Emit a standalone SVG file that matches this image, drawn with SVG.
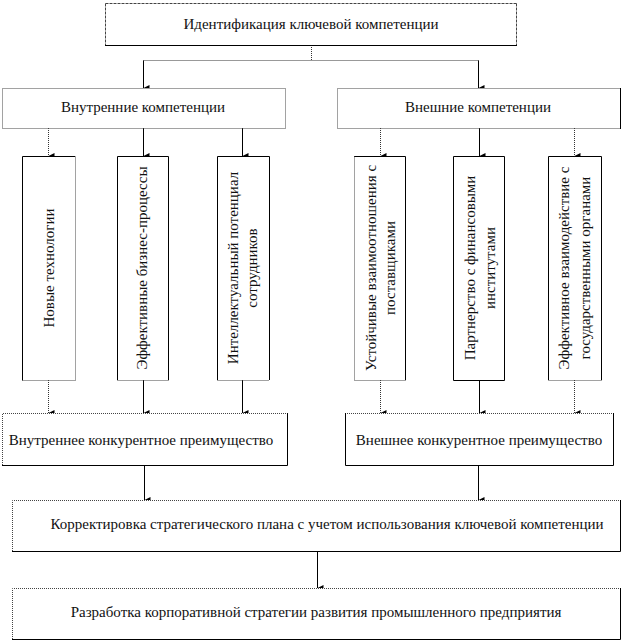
<svg xmlns="http://www.w3.org/2000/svg" width="623" height="642" viewBox="0 0 623 642">
<defs>
<marker id="ah" markerWidth="8" markerHeight="8" refX="4" refY="7" orient="auto" markerUnits="userSpaceOnUse" viewBox="0 0 8 8">
<path d="M1,1 L7,1 L4,7 Z" fill="#000"/>
</marker>
<style>
.bg{fill:#fff;stroke:none}
.s{stroke:#000;stroke-width:1;fill:none}
.d{stroke:#444;stroke-width:1;stroke-dasharray:1 1;fill:none}
.ds{stroke:#444;stroke-width:1;stroke-dasharray:3 1;fill:none}
.t{font-family:'Liberation Serif','Times New Roman',serif;font-size:15px;fill:#111;text-anchor:middle}
.c{stroke:#000;stroke-width:1;fill:none}
.cd{stroke:#333;stroke-width:1;stroke-dasharray:1 1;fill:none}
</style>
</defs>
<rect width="623" height="642" fill="#fff"/>

<g id="connectors">
<path class="cd" d="M311.5,45 V60.5 M143.5,60.5 H478.5"/>
<path class="c" d="M143.5,60.5 V88" marker-end="url(#ah)"/>
<path class="c" d="M478.5,60.5 V88" marker-end="url(#ah)"/>
<path class="cd" d="M48.5,128 V156" marker-end="url(#ah)"/>
<path class="c" d="M143.5,128 V156" marker-end="url(#ah)"/>
<path class="c" d="M242.5,128 V156" marker-end="url(#ah)"/>
<path class="cd" d="M380.5,128 V156" marker-end="url(#ah)"/>
<path class="c" d="M479.5,128 V156" marker-end="url(#ah)"/>
<path class="cd" d="M574.5,128 V156" marker-end="url(#ah)"/>
<path class="cd" d="M48.5,380 V413" marker-end="url(#ah)"/>
<path class="c" d="M143.5,380 V413" marker-end="url(#ah)"/>
<path class="c" d="M242.5,380 V413" marker-end="url(#ah)"/>
<path class="cd" d="M380.5,380 V413" marker-end="url(#ah)"/>
<path class="c" d="M479.5,380 V413" marker-end="url(#ah)"/>
<path class="cd" d="M574.5,380 V413" marker-end="url(#ah)"/>
<path class="c" d="M144.5,465 V500" marker-end="url(#ah)"/>
<path class="c" d="M478.5,465 V500" marker-end="url(#ah)"/>
<path class="c" d="M317.5,551 V588" marker-end="url(#ah)"/>
</g>

<g id="n-ident">
<rect class="bg" x="105" y="3" width="412" height="42"/>
<path class="ds" d="M105.5,3.5 H516.5 M105.5,3.5 V45 M516.5,3.5 V45"/>
<path class="s" d="M105,45.5 H517"/>
<text class="t" x="311" y="29" font-family="Liberation Serif">Идентификация ключевой компетенции</text>
</g>

<g id="n-vnutr">
<rect class="bg" x="2" y="88" width="283" height="40"/>
<path class="d" d="M2.5,88.5 H285.5 V128.5 H2.5 Z"/>
<text class="t" x="143" y="112" font-family="Liberation Serif">Внутренние компетенции</text>
</g>

<g id="n-vnesh">
<rect class="bg" x="337" y="88" width="283" height="40"/>
<path class="d" d="M620.5,128.5 H337.5 V88.5 H620.5"/>
<path class="s" d="M620.5,88 V129"/>
<text class="t" x="478" y="112" font-family="Liberation Serif">Внешние компетенции</text>
</g>

<g id="n-b1">
<rect class="bg" x="23" y="156" width="52" height="224"/>
<path class="s" d="M75,156.5 H22.5 V380.5"/>
<path class="d" d="M22.5,380.5 H75.5 V156.5"/>
<text class="t" transform="translate(54,268) rotate(-90)" font-family="Liberation Serif">Новые технологии</text>
</g>

<g id="n-b2">
<rect class="bg" x="117" y="156" width="51" height="224"/>
<path class="s" d="M117.5,380 V156.5 H168.5 V380"/>
<path class="d" d="M117.5,380.5 H168.5"/>
<text class="t" transform="translate(147,268) rotate(-90)" font-family="Liberation Serif">Эффективные бизнес-процессы</text>
</g>

<g id="n-b3">
<rect class="bg" x="217" y="156" width="52" height="224"/>
<path class="s" d="M217.5,380 V156.5 H269.5 V380"/>
<path class="d" d="M217.5,380.5 H269.5"/>
<text class="t" transform="translate(238,268) rotate(-90)" font-family="Liberation Serif">Интеллектуальный потенциал</text>
<text class="t" transform="translate(257,268) rotate(-90)" font-family="Liberation Serif">сотрудников</text>
</g>

<g id="n-b4">
<rect class="bg" x="354" y="156" width="51" height="224"/>
<path class="s" d="M354,156.5 H405.5 V380"/>
<path class="d" d="M354.5,156.5 V380.5 H405.5"/>
<text class="t" transform="translate(376,268) rotate(-90)" font-family="Liberation Serif">Устойчивые взаимоотношения с</text>
<text class="t" transform="translate(395,268) rotate(-90)" font-family="Liberation Serif">поставщиками</text>
</g>

<g id="n-b5">
<rect class="bg" x="453" y="156" width="51" height="224"/>
<path class="s" d="M453.5,156.5 H504.5 V380.5 H453.5 Z"/>
<text class="t" transform="translate(475,268) rotate(-90)" font-family="Liberation Serif">Партнерство с финансовыми</text>
<text class="t" transform="translate(495,268) rotate(-90)" font-family="Liberation Serif">институтами</text>
</g>

<g id="n-b6">
<rect class="bg" x="548" y="156" width="53" height="224"/>
<path class="s" d="M548.5,380 V156.5 H601.5 V380"/>
<path class="d" d="M548.5,380.5 H601.5"/>
<text class="t" transform="translate(569,268) rotate(-90)" font-family="Liberation Serif">Эффективное взаимодействие с</text>
<text class="t" transform="translate(590,268) rotate(-90)" font-family="Liberation Serif">государственными органами</text>
</g>

<g id="n-vnutr-adv">
<rect class="bg" x="2" y="413" width="285" height="52"/>
<path class="d" d="M2.5,465 V413.5 H287"/>
<path class="s" d="M287.5,413 V465.5 H2"/>
<text class="t" x="141" y="445" font-family="Liberation Serif">Внутреннее конкурентное преимущество</text>
</g>

<g id="n-vnesh-adv">
<rect class="bg" x="345" y="413" width="268" height="52"/>
<path class="d" d="M345,413.5 H613"/>
<path class="s" d="M345.5,413 V465.5 H613.5 V413"/>
<text class="t" x="479" y="445" font-family="Liberation Serif">Внешнее конкурентное преимущество</text>
</g>

<g id="n-korr">
<rect class="bg" x="12" y="500" width="608" height="51"/>
<path class="d" d="M12.5,551 V500.5 H620"/>
<path class="s" d="M620.5,500 V551.5 H12"/>
<text class="t" x="327" y="529" font-family="Liberation Serif">Корректировка стратегического плана с учетом использования ключевой компетенции</text>
</g>

<g id="n-razr">
<rect class="bg" x="12" y="588" width="608" height="51"/>
<path class="d" d="M12.5,639 V588.5 H620"/>
<path class="s" d="M620.5,588 V639.5 H12"/>
<text class="t" x="316" y="617" font-family="Liberation Serif">Разработка корпоративной стратегии развития промышленного предприятия</text>
</g>
</svg>
